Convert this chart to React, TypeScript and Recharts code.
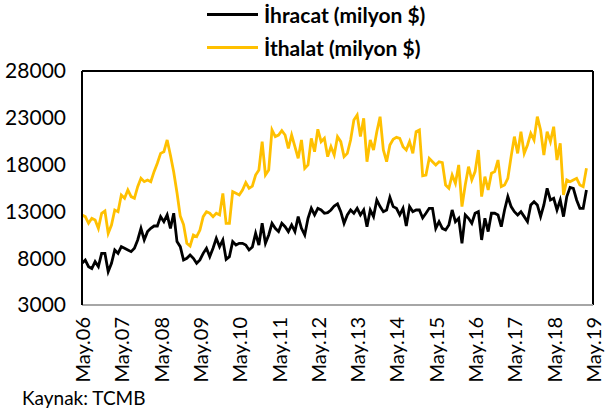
import { LineChart, Line, XAxis, YAxis, ReferenceLine } from 'recharts';

const monthNames = ['May', 'Haz', 'Tem', 'Ağu', 'Eyl', 'Eki', 'Kas', 'Ara', 'Oca', 'Şub', 'Mar', 'Nis'];

// May 2006 .. May 2019, monthly
const categories: string[] = Array.from({ length: 157 }, (_, i) => {
  const yy = 6 + Math.floor((i + 4) / 12);
  return `${monthNames[i % 12]}.${String(yy).padStart(2, '0')}`;
});

// million $, May 2006 .. Mar 2019
const ihracat = [
  7450, 7800, 7100, 6900, 7630, 7100, 8520, 8520, 6560, 7450, 8880, 8520,
  9230, 9060, 8880, 8700, 9060, 9950, 11190, 9950, 10840, 11190, 11440, 11440,
  12440, 11900, 12620, 11190, 12800, 9770, 9230, 7810, 7990, 8340, 7990, 7450,
  7810, 8520, 9060, 8170, 9060, 10120, 9230, 9950, 7880, 8170, 9770, 9410,
  9590, 9590, 9410, 8880, 9200, 10660, 9410, 11730, 9590, 10480, 11730, 11190,
  10840, 11730, 11370, 10840, 11550, 10840, 12440, 11190, 10480, 12260, 13330, 12620,
  13330, 13150, 12800, 12870, 13150, 13580, 13800, 12970, 11730, 12620, 13150, 12800,
  13330, 12620, 13150, 11370, 13150, 12440, 14220, 13510, 12970, 13150, 14500, 13510,
  13330, 12620, 13330, 11440, 13510, 12970, 13150, 13150, 12300, 12800, 13330, 13330,
  11190, 11900, 11190, 11010, 11550, 13150, 11900, 12260, 9590, 12620, 12260, 11730,
  12800, 12970, 9950, 12260, 10840, 12800, 12800, 12620, 11370, 13150, 14580, 13510,
  12970, 12620, 12970, 12440, 11900, 13690, 14040, 13690, 12440, 13690, 15470, 14220,
  14400, 13150, 14220, 12440, 14580, 15570, 15470, 14220, 13330, 13330, 15290,
];

const ithalat = [
  12620, 12440, 11730, 12260, 12080, 11190, 12800, 13040, 10660, 11550, 13150, 12970,
  14750, 14400, 15290, 14580, 14400, 15640, 16530, 16180, 16360, 16180, 17250, 18140,
  19200, 19380, 20630, 19000, 17200, 15000, 12500, 11600, 9600, 9300, 10480, 10300,
  11010, 12440, 12970, 12800, 12440, 12800, 12620, 14930, 11730, 11730, 15110, 14930,
  14750, 15290, 16070, 15470, 15700, 16890, 17420, 20450, 16890, 17420, 21700, 20990,
  21160, 21630, 21160, 19740, 21160, 19920, 18670, 20630, 17600, 17960, 20810, 19380,
  21770, 20450, 20810, 18850, 19920, 19030, 20990, 20450, 18850, 19200, 20630, 22770,
  23300, 20990, 22940, 18310, 20630, 19560, 21520, 23120, 19560, 18310, 20100, 20700,
  20910, 20810, 19920, 19560, 20450, 19200, 21520, 21700, 16800, 16890, 18670, 18310,
  17960, 18310, 18210, 15820, 15470, 16890, 16000, 17960, 13510, 15820, 17780, 16360,
  17250, 19560, 14580, 16710, 15290, 17070, 17250, 18490, 15640, 15820, 16530, 18850,
  20990, 19200, 21520, 19200, 20100, 21340, 20630, 23120, 21700, 19030, 21520, 20450,
  22050, 18490, 20270, 14750, 16360, 16180, 16360, 16530, 15820, 15640, 17600,
];

const yTicks = [3000, 8000, 13000, 18000, 23000, 28000];

const rows = categories.map((c, i) => ({
  ay: c,
  ihracat: ihracat[i] ?? null,
  ithalat: ithalat[i] ?? null,
}));

const font = 'Lato, "Open Sans", sans-serif';

function XTick({ x, y, payload }: any) {
  return (
    <text
      x={x}
      y={y}
      transform={`rotate(-90 ${x} ${y})`}
      textAnchor="end"
      dominantBaseline="central"
      fontSize={20}
      fill="#000"
    >
      {payload.value}
    </text>
  );
}

export default function App() {
  return (
    <div style={{ position: 'absolute', left: 0, top: 0, width: 605, height: 415, fontFamily: font, background: '#fff' }}>
      <div style={{ position: 'absolute', left: 207, top: 2, display: 'flex', alignItems: 'center', fontWeight: 700, fontSize: 21 }}>
        <span style={{ display: 'inline-block', width: 51, height: 3, background: '#000', marginRight: 6 }} />
        İhracat (milyon $)
      </div>
      <div style={{ position: 'absolute', left: 207, top: 35, display: 'flex', alignItems: 'center', fontWeight: 700, fontSize: 21 }}>
        <span style={{ display: 'inline-block', width: 51, height: 3, background: '#FFC000', marginRight: 6 }} />
        İthalat (milyon $)
      </div>
      <LineChart width={605} height={415} data={rows} margin={{ top: 71, right: 12, bottom: 10, left: 0 }}>
        <XAxis
          dataKey="ay"
          interval={11}
          height={100}
          tick={<XTick />}
          tickLine={false}
          tickSize={0}
          tickMargin={12}
          axisLine={{ stroke: '#A6A6A6', strokeWidth: 2 }}
        />
        <YAxis
          width={82}
          domain={[3000, 28000]}
          ticks={yTicks}
          interval={0}
          tickLine={false}
          tickSize={0}
          tickMargin={16}
          axisLine={{ stroke: '#000', strokeWidth: 2 }}
          tick={{ fill: '#000', fontSize: 21 }}
        />
        <ReferenceLine y={28000} stroke="#000" strokeWidth={2} />
        <ReferenceLine x={categories[156]} stroke="#000" strokeWidth={2} />
        <Line dataKey="ithalat" stroke="#FFC000" strokeWidth={2.8} dot={false} isAnimationActive={false} />
        <Line dataKey="ihracat" stroke="#000" strokeWidth={2.8} dot={false} isAnimationActive={false} />
      </LineChart>
      <div style={{ position: 'absolute', left: 22, top: 386, fontSize: 19 }}>Kaynak: TCMB</div>
    </div>
  );
}
